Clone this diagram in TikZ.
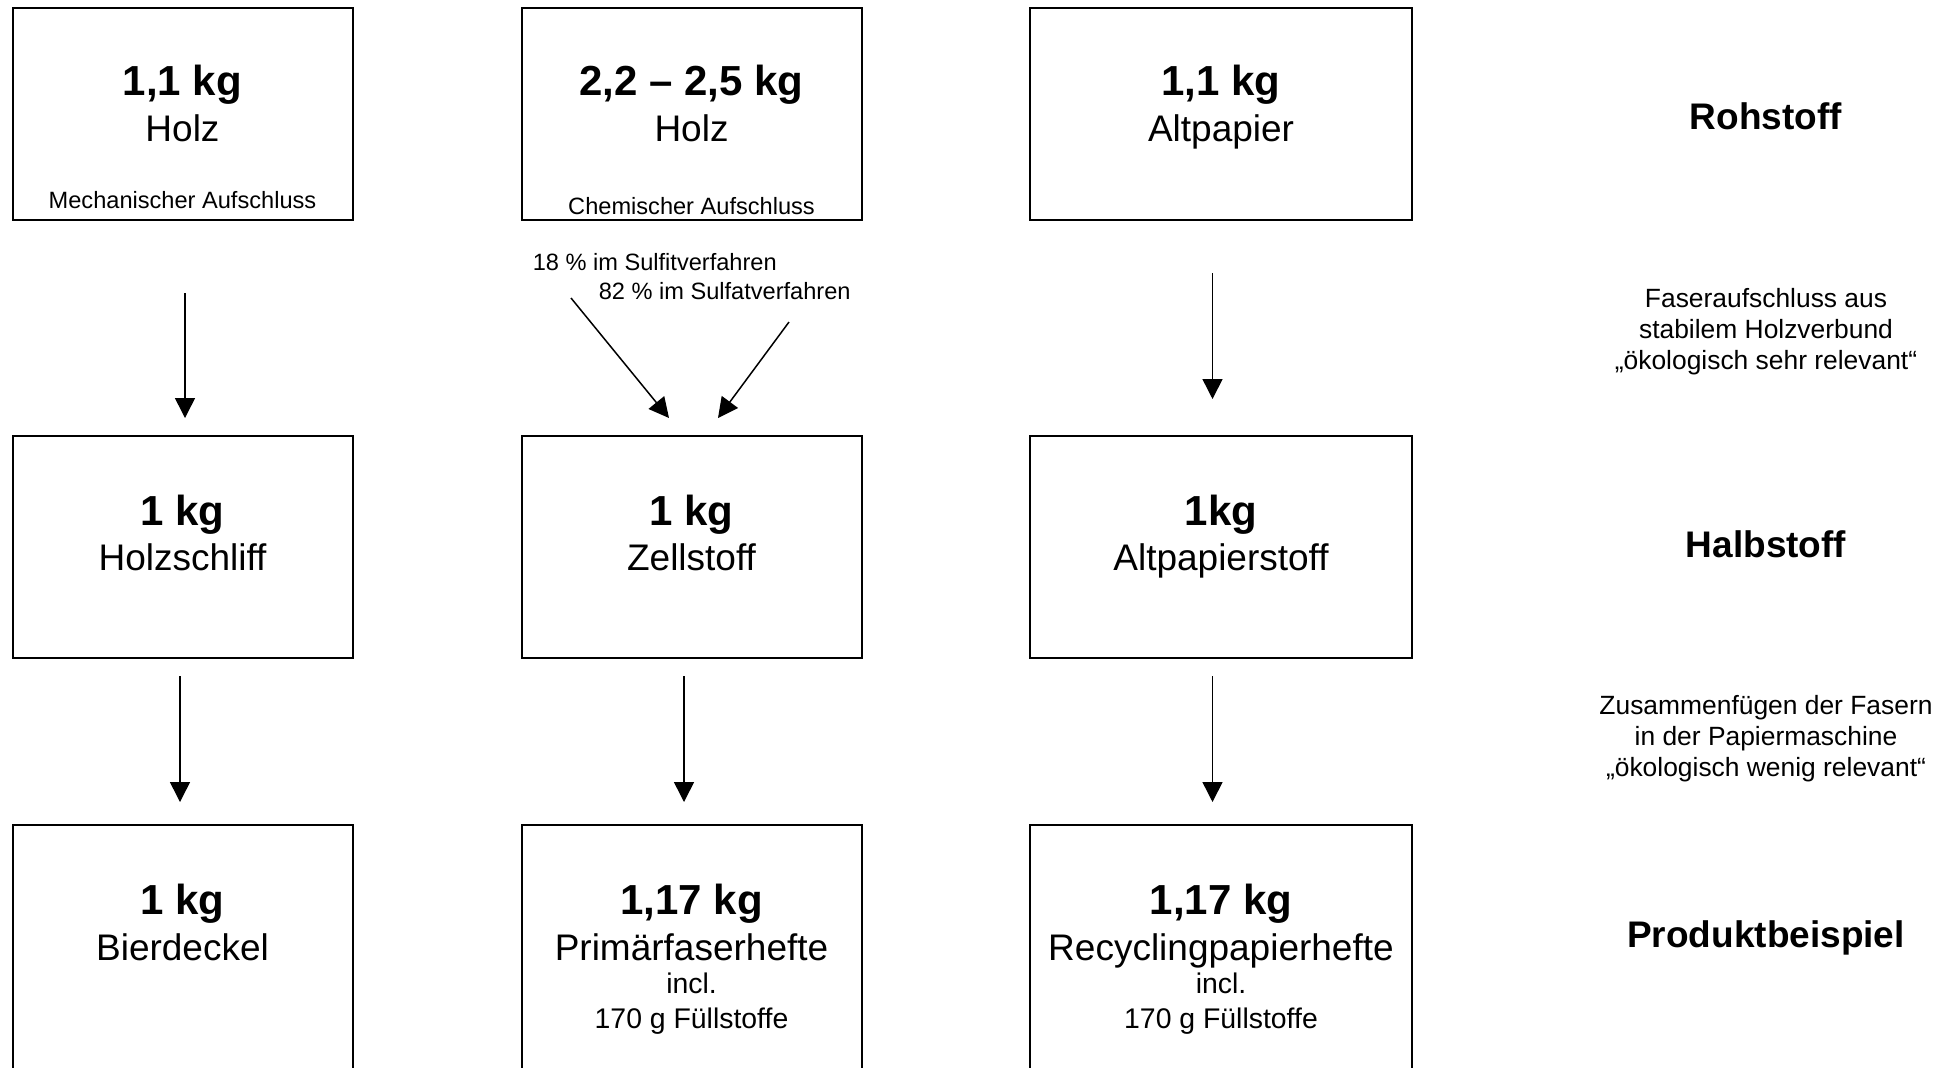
\documentclass[tikz,border=0pt]{standalone}
\usepackage{fontspec}
\setmainfont{Liberation Sans}
\usepackage{tikz}
\usetikzlibrary{arrows.meta}

\begin{document}
\begin{tikzpicture}[>={Triangle[length=10pt,width=10pt]},x=0.5pt,y=-0.5pt,
                    line width=0.75pt]
  \tikzstyle{box}=[rectangle,draw,line width=1pt,minimum width=170pt,
                   minimum height=106pt,inner sep=0pt]
  \tikzstyle{kgtxt}=[font=\fontsize{21}{25}\selectfont\bfseries,
                     text height=0.72em,text depth=0pt,inner sep=0pt]
  \tikzstyle{maintxt}=[font=\fontsize{18.5}{22}\selectfont,
                       text height=0.72em,text depth=0pt,inner sep=0pt]
  \tikzstyle{smalltxt}=[font=\fontsize{11.8}{14}\selectfont,
                        text height=0.72em,text depth=0pt,inner sep=0pt]
  \tikzstyle{filltxt}=[font=\fontsize{14.2}{17}\selectfont,
                       text height=0.72em,text depth=0pt,inner sep=0pt]
  \tikzstyle{cattxt}=[font=\fontsize{18.5}{22}\selectfont\bfseries,
                      text height=0.72em,text depth=0pt,inner sep=0pt]
  \tikzstyle{sidetxt}=[font=\fontsize{13.2}{15.5}\selectfont,align=center,
                       inner sep=0pt]

  \useasboundingbox (0,0) rectangle (1953,1067);
  \clip (0,0) rectangle (1953,1067);

  % Rohstoff
  \node[box] (Roh1) at (182.5,113.75) {};
  \node[box] (Roh2) at (691.5,113.75) {};
  \node[box,minimum width=191.25pt] (Roh3) at (1220.75,113.75) {};

  \node[kgtxt]    (Roh1kg)  at (182.5,88)   {1,1 kg};
  \node[maintxt]  (Roh1txt) at (182.5,134)  {Holz};
  \node[smalltxt] (Roh1sub) at (182.5,201.5) {Mechanischer Aufschluss};

  \node[kgtxt]    (Roh2kg)  at (691.5,88)   {2,2 – 2,5 kg};
  \node[maintxt]  (Roh2txt) at (691.5,134)  {Holz};
  \node[smalltxt] (Roh2sub) at (691.5,207.5) {Chemischer Aufschluss};

  \node[kgtxt]    (Roh3kg)  at (1221,88)    {1,1 kg};
  \node[maintxt]  (Roh3txt) at (1221,134)   {Altpapier};

  % Halbstoff
  \node[box,minimum height=111pt] (Halb1) at (182.5,547) {};
  \node[box,minimum height=111pt] (Halb2) at (691.5,547) {};
  \node[box,minimum height=111pt,minimum width=191.25pt] (Halb3) at (1220.75,547) {};

  \node[kgtxt]   (Halb1kg)  at (182.5,518) {1 kg};
  \node[maintxt] (Halb1txt) at (182.5,563) {Holzschliff};
  \node[kgtxt]   (Halb2kg)  at (691.5,518) {1 kg};
  \node[maintxt] (Halb2txt) at (691.5,563) {Zellstoff};
  \node[kgtxt]   (Halb3kg)  at (1221,518)  {1kg};
  \node[maintxt] (Halb3txt) at (1221,563)  {Altpapierstoff};

  % Produktbeispiel
  \node[box,minimum height=130pt] (Prod1) at (182.5,955) {};
  \node[box,minimum height=130pt] (Prod2) at (691.5,955) {};
  \node[box,minimum height=130pt,minimum width=191.25pt] (Prod3) at (1220.75,955) {};

  \node[kgtxt]   (Prod1kg)   at (182.5,907) {1 kg};
  \node[maintxt] (Prod1txt)  at (182.5,953) {Bierdeckel};
  \node[kgtxt]   (Prod2kg)   at (691.5,907) {1,17 kg};
  \node[maintxt] (Prod2txt)  at (691.5,953) {Primärfaserhefte};
  \node[filltxt] (Prod2incl) at (691.5,986.5) {incl.};
  \node[filltxt] (Prod2fs)   at (691.5,1021.5) {170 g Füllstoffe};
  \node[kgtxt]   (Prod3kg)   at (1221,907)  {1,17 kg};
  \node[maintxt] (Prod3txt)  at (1221,953)  {Recyclingpapierhefte};
  \node[filltxt] (Prod3incl) at (1221,986.5) {incl.};
  \node[filltxt] (Prod3fs)   at (1221,1021.5) {170 g Füllstoffe};

  % Verfahren
  \node[smalltxt,anchor=west] (Sulfit) at (532,263.5) {18 \% im Sulfitverfahren};
  \node[smalltxt,anchor=west] (Sulfat) at (598,292) {82 \% im Sulfatverfahren};

  % Spalte rechts
  \node[cattxt]  (Rohstoff)  at (1766,122) {Rohstoff};
  \node[sidetxt] (Faser)     at (1766,332) {Faseraufschluss aus\\stabilem Holzverbund\\„ökologisch sehr relevant“};
  \node[cattxt]  (Halbstoff) at (1766,550) {Halbstoff};
  \node[sidetxt] (Fuegen)    at (1766,739) {Zusammenfügen der Fasern\\in der Papiermaschine\\„ökologisch wenig relevant“};
  \node[cattxt]  (Produkt)   at (1766,940) {Produktbeispiel};

  % Pfeile
  \coordinate (A1) at (185,293);     \coordinate (B1) at (185,418);
  \coordinate (A2) at (571,298);     \coordinate (B2) at (669,418);
  \coordinate (A2b) at (789,322);    \coordinate (B2b) at (718,418);
  \coordinate (A3) at (1212.5,273);  \coordinate (B3) at (1212.5,399);
  \coordinate (C1) at (180,676);     \coordinate (D1) at (180,802);
  \coordinate (C2) at (684,676);     \coordinate (D2) at (684,802);
  \coordinate (C3) at (1212.5,676);  \coordinate (D3) at (1212.5,802);

  \draw[->] (A1) -- (B1);
  \draw[->] (A2) -- (B2);
  \draw[->] (A2b) -- (B2b);
  \draw[->] (A3) -- (B3);
  \draw[->] (C1) -- (D1);
  \draw[->] (C2) -- (D2);
  \draw[->] (C3) -- (D3);
\end{tikzpicture}
\end{document}
